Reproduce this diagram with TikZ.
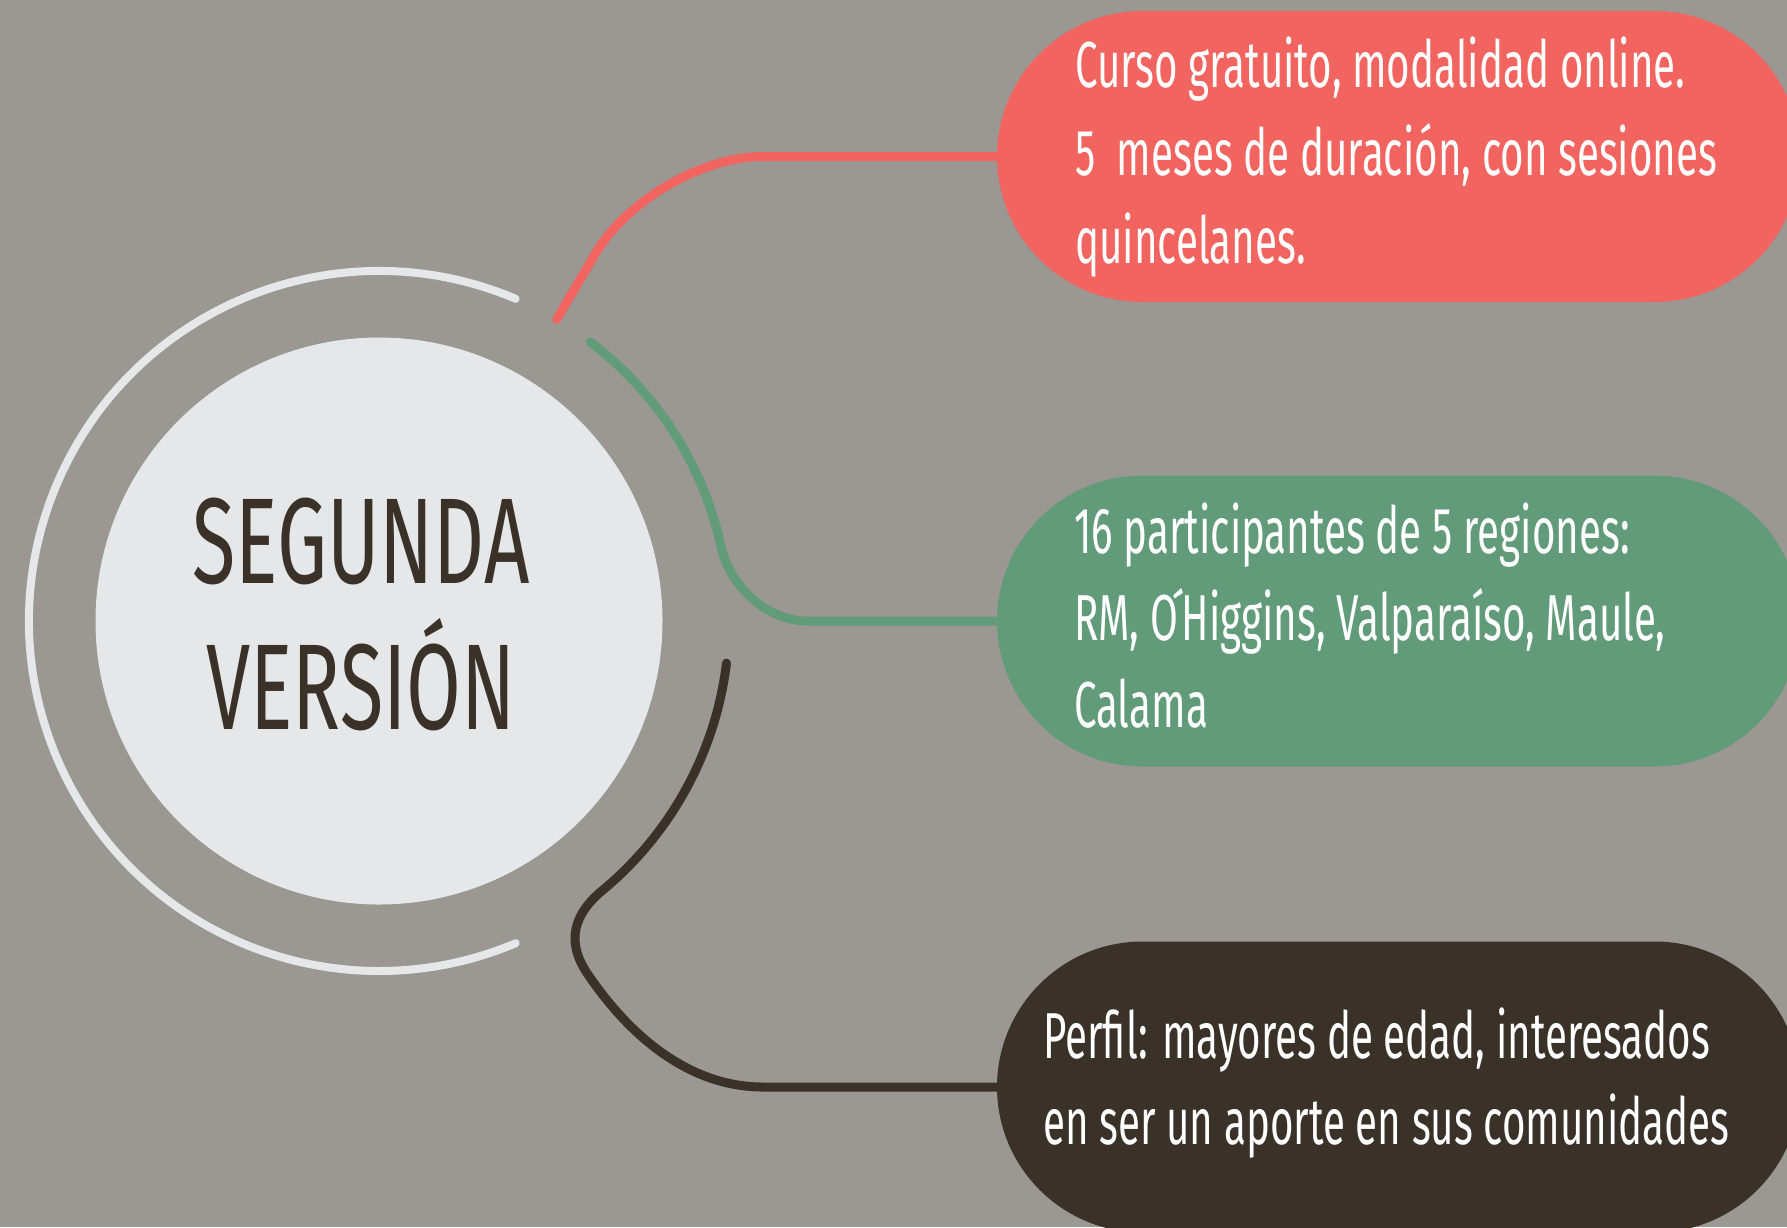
\documentclass[tikz,border=0pt]{standalone}
\usepackage{fontspec}
\usetikzlibrary{shapes.misc}
\newfontfamily\thinfont{Fira Sans}[FakeStretch=0.62]
\newfontfamily\titlefont{Fira Sans}[FakeStretch=0.65]
\definecolor{bgc}{HTML}{9B9893}
\definecolor{redc}{HTML}{F1645F}
\definecolor{greenc}{HTML}{619B7A}
\definecolor{darkc}{HTML}{3A3229}
\definecolor{lightc}{HTML}{E6E7E9}
\tikzset{
  pill/.style={rounded rectangle, minimum width=803pt, minimum height=291pt, inner sep=0pt},
  conn/.style={line width=9pt, line cap=round},
  ring/.style={line width=8pt, line cap=round, draw=lightc},
  bodytext/.style={anchor=base west, align=left, text=white, inner sep=0pt,
    font=\thinfont\fontsize{65}{86}\selectfont},
  titletext/.style={anchor=base, align=center, text=darkc, inner sep=0pt,
    font=\titlefont\fontsize{122}{146}\selectfont}
}
\begin{document}
\begin{tikzpicture}[x=1pt,y=-1pt]
\useasboundingbox (0,0) rectangle (1787,1227);
\clip (0,0) rectangle (1787,1227);
\fill[bgc] (0,0) rectangle (1787,1227);
\coordinate (C) at (379,621);
\node[circle, fill=lightc, minimum size=567pt, inner sep=0pt] (core) at (C) {};
\draw[ring] ([shift={(C)}]-67:350) arc[start angle=-67, end angle=-293, radius=350];
\node[pill, fill=redc] (rbox) at (1398.5,156.5) {};
\node[pill, fill=greenc] (gbox) at (1398.5,621) {};
\node[pill, fill=darkc] (dbox) at (1398.5,1087) {};
\draw[conn, draw=redc] ([shift={(C)}]-59.5:350) -- ([shift={(C)}]-59.5:422)
  .. controls (624,202) and (701,156.5) .. (763,156.5) -- (rbox.west);
\draw[conn, draw=greenc] ([shift={(C)}]-52.9:350) arc[start angle=-52.9, end angle=-12.2, radius=350]
  .. controls (730,587) and (768,621) .. (807,621) -- (gbox.west);
\draw[conn, draw=darkc] ([shift={(C)}]6.9:350) arc[start angle=6.9, end angle=50.3, radius=350]
  .. controls (575,913) and (565,940) .. (587,973)
  .. controls (630,1037) and (690,1087) .. (763,1087) -- (dbox.west);
\node[titletext] (title) at (361,729) {SEGUNDA\\VERSIÓN};
\node[bodytext, font=\thinfont\fontsize{65}{88}\selectfont] (rtext) at (1075,263)
  {Curso gratuito, modalidad online.\\5\ \ meses de duración, con sesiones\\quincelanes.};
\node[bodytext, font=\thinfont\fontsize{65}{87}\selectfont] (gtext) at (1074,727)
  {16 participantes de 5 regiones:\\RM, O\kern-0.08em´\kern-0.05em Higgins, Valparaíso, Maule,\\Calama};
\node[bodytext] (dtext) at (1043,1144)
  {Perfil: mayores de edad, interesados\\en ser un aporte en sus comunidades};
\end{tikzpicture}
\end{document}
